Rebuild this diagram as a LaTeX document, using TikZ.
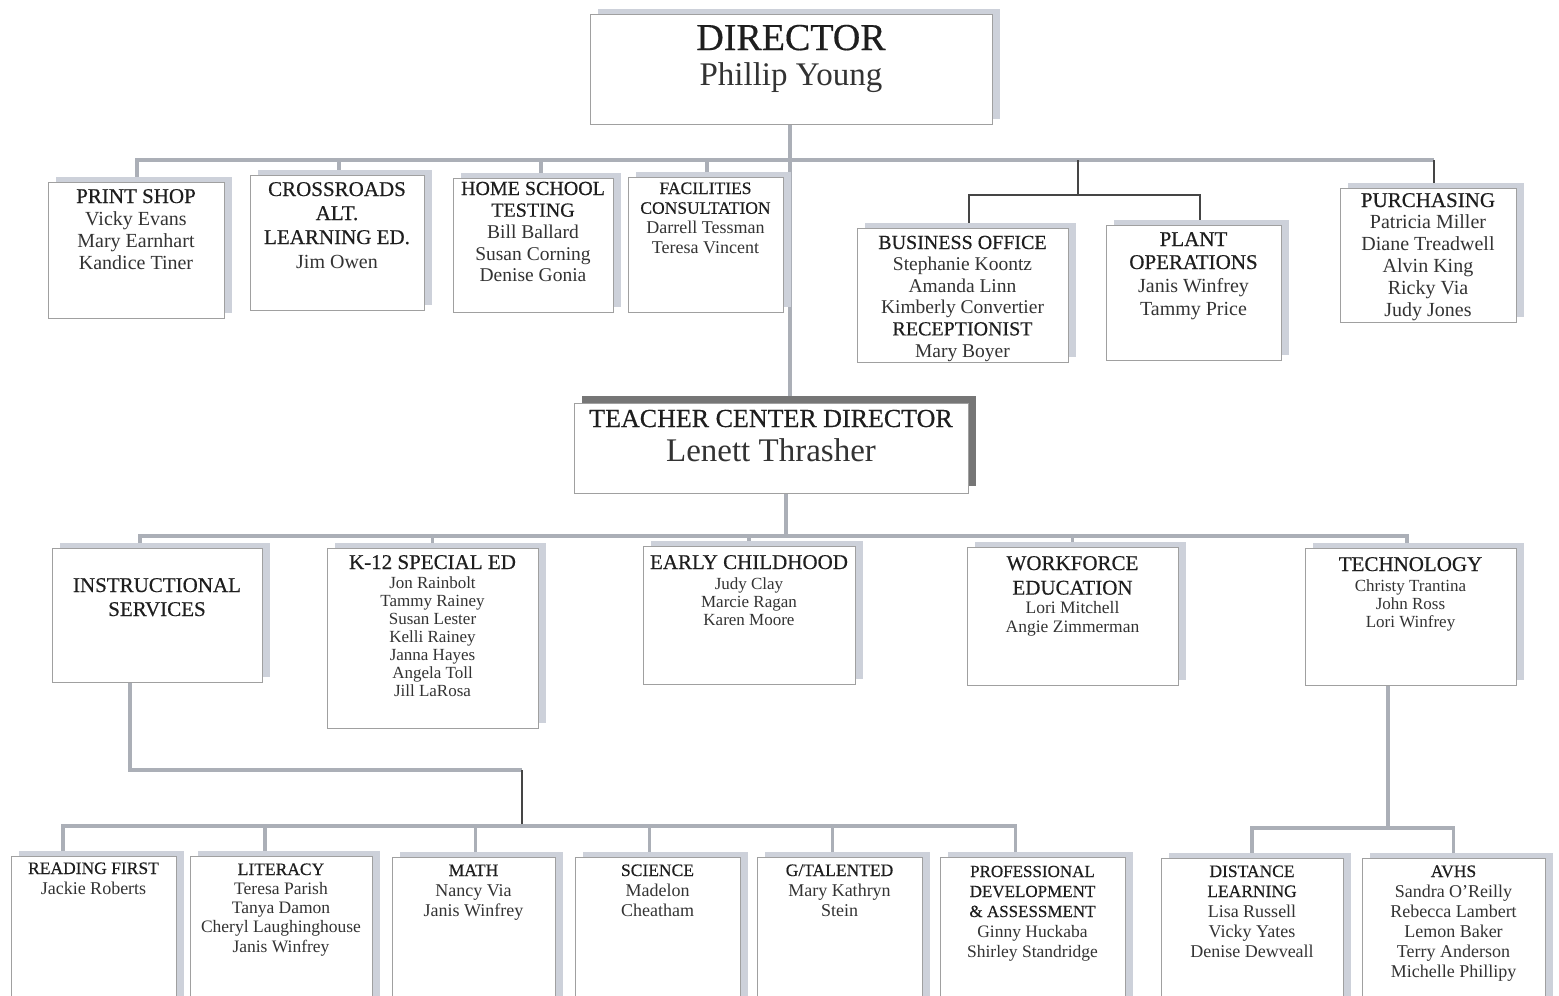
\documentclass[tikz,border=0pt]{standalone}
\usepackage{fontspec}
\setmainfont{Liberation Serif}
\newfontfamily\titlefont[FakeBold=0.45]{Liberation Serif}
\definecolor{titlec}{HTML}{1E1E1E}
\definecolor{namec}{HTML}{333333}
\definecolor{boxline}{HTML}{A0A0A0}
\definecolor{shadc}{HTML}{CDD1DA}
\definecolor{tcdshad}{HTML}{767676}
\definecolor{connc}{HTML}{ABAFB7}
\definecolor{darkc}{HTML}{454545}
\newcommand\fsz[2]{\fontsize{#1}{#2}\selectfont}
\newcommand\ttl[2]{{\titlefont\fsz{#1}{#1}\color{titlec}#2}}
\pgfdeclarelayer{back}
\pgfdeclarelayer{bg}
\pgfsetlayers{back,bg,main}
\tikzset{
  boxst/.style={draw=boxline, fill=white, line width=0.7pt, inner sep=0pt},
  txt/.style={anchor=base, align=center, inner sep=0pt, text=namec},
  gconn/.style={draw=connc, line width=3.5pt},
  dconn/.style={draw=darkc, line width=1.3pt},
}
% name, x1, y1, x2, y2, first baseline, font, text
\newcommand\obox[8]{%
  \fill[shadc] ({#2+8},{#3-5}) rectangle ({#4+8},{#5-5});
  \node[boxst, minimum width={(#4)-(#2)}, minimum height={(#5)-(#3)}] (#1) at ({((#2)+(#4))/2},{((#3)+(#5))/2}) {};
  \node[txt, font=#7] (#1t) at ({((#2)+(#4))/2},#6) {\begin{tabular}[t]{@{}c@{}}#8\end{tabular}};
}
\begin{document}
\begin{tikzpicture}[x=1pt,y=-1pt]
\clip (0,0) rectangle (1559,996);
\begin{pgfonlayer}{back}
\fill[white] (0,0) rectangle (1559,996);
\end{pgfonlayer}

% ---- top
\obox{dir}{590}{14}{992}{124}{50}{\fsz{33}{35}}{\ttl{38}{DIRECTOR}\\Phillip Young}

\obox{ps}{48}{182}{224}{318}{203}{\fsz{20}{22}}{\ttl{21}{PRINT SHOP}\\Vicky Evans\\Mary Earnhart\\Kandice Tiner}
\obox{cr}{250}{175}{424}{310}{196}{\fsz{20}{24}}{\ttl{21}{CROSSROADS}\\\ttl{21}{ALT.}\\\ttl{21}{LEARNING ED.}\\Jim Owen}
\obox{hs}{453}{178}{613}{312}{195}{\fsz{19.5}{21.7}}{\ttl{20}{HOME SCHOOL}\\\ttl{20}{TESTING}\\Bill Ballard\\Susan Corning\\Denise Gonia}
\obox{fc}{628}{177}{783}{312}{194}{\fsz{18}{19.8}}{\ttl{17.5}{FACILITIES}\\\ttl{17.5}{CONSULTATION}\\Darrell Tessman\\Teresa Vincent}
\obox{bo}{857}{228}{1068}{362}{249}{\fsz{19.5}{21.6}}{\ttl{20}{BUSINESS OFFICE}\\Stephanie Koontz\\Amanda Linn\\Kimberly Convertier\\\ttl{20}{RECEPTIONIST}\\Mary Boyer}
\obox{po}{1106}{225}{1281}{360}{246}{\fsz{20}{23}}{\ttl{21}{PLANT}\\\ttl{21}{OPERATIONS}\\Janis Winfrey\\Tammy Price}
\obox{pu}{1340}{188}{1516}{322}{207}{\fsz{20}{21.8}}{\ttl{21}{PURCHASING}\\Patricia Miller\\Diane Treadwell\\Alvin King\\Ricky Via\\Judy Jones}

% ---- teacher center director
\fill[tcdshad] (582,396) rectangle (976,486);
\node[boxst, minimum width=394pt, minimum height=90pt] (tcd) at (771,448) {};
\node[txt, font=\fsz{26}{34}] (tcdt) at (771,427) {\begin{tabular}[t]{@{}c@{}}\ttl{26}{TEACHER CENTER DIRECTOR}\\{\fsz{33}{34}Lenett Thrasher}\end{tabular}};

% ---- third row
\obox{is}{52}{548}{262}{682}{592}{\fsz{21}{24}}{\ttl{21}{INSTRUCTIONAL}\\\ttl{21}{SERVICES}}
\obox{ks}{327}{548}{538}{728}{569}{\fsz{17}{18}}{\ttl{21}{K-12 SPECIAL ED}\\[1pt]Jon Rainbolt\\Tammy Rainey\\Susan Lester\\Kelli Rainey\\Janna Hayes\\Angela Toll\\Jill LaRosa}
\obox{ec}{643}{546}{855}{684}{569}{\fsz{17}{18}}{\ttl{21}{EARLY CHILDHOOD}\\[2pt]Judy Clay\\Marcie Ragan\\Karen Moore}
\obox{wf}{967}{547}{1178}{685}{570}{\fsz{17.5}{19}}{\ttl{21}{WORKFORCE}\\[5pt]\ttl{21}{EDUCATION}\\Lori Mitchell\\Angie Zimmerman}
\obox{te}{1305}{548}{1516}{685}{571}{\fsz{17}{18}}{\ttl{21}{TECHNOLOGY}\\[2pt]Christy Trantina\\John Ross\\Lori Winfrey}

% ---- bottom row
\obox{rf}{11}{856}{176}{1004}{874}{\fsz{18}{20}}{\ttl{17.5}{READING FIRST}\\Jackie Roberts}
\obox{li}{190}{856}{372}{1004}{875}{\fsz{17.5}{19.3}}{\ttl{17.5}{LITERACY}\\Teresa Parish\\Tanya Damon\\Cheryl Laughinghouse\\Janis Winfrey}
\obox{ma}{392}{857}{555}{1004}{876}{\fsz{18}{20}}{\ttl{17.5}{MATH}\\Nancy Via\\Janis Winfrey}
\obox{sc}{575}{857}{740}{1004}{876}{\fsz{18}{20}}{\ttl{17.5}{SCIENCE}\\Madelon\\Cheatham}
\obox{gt}{757}{857}{922}{1004}{876}{\fsz{18}{20}}{\ttl{17.5}{G/TALENTED}\\Mary Kathryn\\Stein}
\obox{pd}{940}{857}{1125}{1004}{877}{\fsz{17.5}{20}}{\ttl{17}{PROFESSIONAL}\\\ttl{17}{DEVELOPMENT}\\\ttl{17}{\& ASSESSMENT}\\Ginny Huckaba\\Shirley Standridge}
\obox{dl}{1161}{858}{1343}{1004}{877}{\fsz{18}{20}}{\ttl{17.5}{DISTANCE}\\\ttl{17.5}{LEARNING}\\Lisa Russell\\Vicky Yates\\Denise Dewveall}
\obox{av}{1362}{858}{1545}{1004}{877}{\fsz{18}{20}}{\ttl{17.5}{AVHS}\\Sandra O'Reilly\\Rebecca Lambert\\Lemon Baker\\Terry Anderson\\Michelle Phillipy}

% ---- connectors
\begin{pgfonlayer}{bg}
\coordinate (h1) at (790,160);
\draw[gconn, line width=4.5pt] (dir.south -| h1) -- (h1 |- tcd.north);
\draw[gconn] ([xshift=1pt]ps.north) |- ([xshift=6pt]pu.north |- h1);
\draw[dconn] ([xshift=6pt]pu.north |- h1) -- ([xshift=6pt]pu.north);
\draw[gconn] ([xshift=2pt]cr.north) -- ([xshift=2pt]cr.north |- h1);
\draw[gconn] ([xshift=8pt]hs.north) -- ([xshift=8pt]hs.north |- h1);
\draw[gconn] ([xshift=1.5pt]fc.north) -- ([xshift=1.5pt]fc.north |- h1);
\coordinate (b1) at (1078,160);
\coordinate (b2) at (1078,195);
\draw[dconn] (b1) -- (b2);
\draw[dconn] ([xshift=6.5pt]bo.north) |- (b2) -| ([xshift=6.5pt]po.north);

\coordinate (h2) at (786,536);
\draw[gconn, line width=4.5pt] (h2 |- tcd.south) -- (h2);
\draw[gconn] ([xshift=-17pt]is.north) |- ([xshift=-3.5pt]te.north |- h2) -- ([xshift=-3.5pt]te.north);
\draw[gconn] (ks.north) -- (ks.north |- h2);
\draw[gconn] (ec.north) -- (ec.north |- h2);
\draw[gconn] (wf.north) -- (wf.north |- h2);

\coordinate (j1) at (130,770);
\coordinate (j2) at (522,770);
\coordinate (h3) at (522,826);
\draw[gconn] (j1 |- is.south) -- (j1) -- (j2);
\draw[dconn] (j2) -- (h3);
\draw[gconn] ([xshift=-30.5pt]rf.north) |- ([xshift=-17pt]pd.north |- h3) -- ([xshift=-17pt]pd.north);
\draw[gconn] ([xshift=-16pt]li.north) -- ([xshift=-16pt]li.north |- h3);
\draw[gconn] ([xshift=2pt]ma.north) -- ([xshift=2pt]ma.north |- h3);
\draw[gconn] ([xshift=-8pt]sc.north) -- ([xshift=-8pt]sc.north |- h3);
\draw[gconn] ([xshift=-7pt]gt.north) -- ([xshift=-7pt]gt.north |- h3);

\coordinate (t1) at (1388,828);
\draw[gconn] (t1 |- te.south) -- (t1);
\draw[gconn] (dl.north) |- (av.north |- t1) -- (av.north);
\end{pgfonlayer}
\end{tikzpicture}
\end{document}
